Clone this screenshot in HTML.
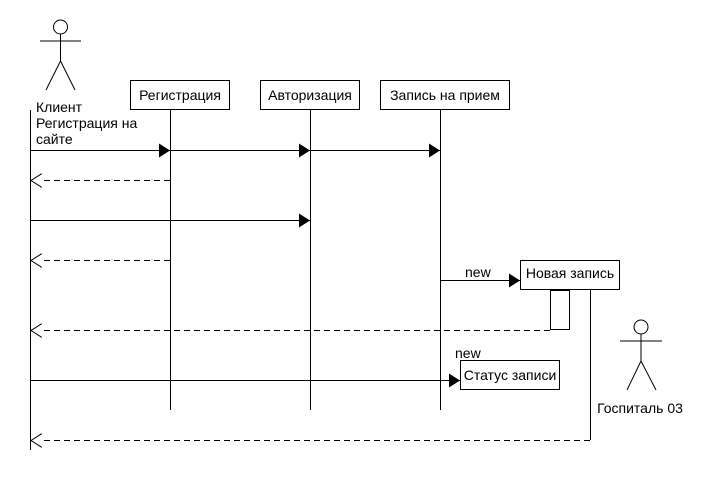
<!DOCTYPE html>
<html><head><meta charset="utf-8"><style>body{margin:0;background:#fff}svg{display:block}text{font-family:"Liberation Sans","Noto Sans CJK SC",sans-serif;font-size:14px;fill:#000}</style></head><body>
<svg width="710" height="480" viewBox="0 0 710 480">
<defs>
<marker id="f" markerWidth="12" markerHeight="14" refX="11" refY="7" orient="auto" markerUnits="userSpaceOnUse"><path d="M0,0L11,7L0,14z" fill="#000"/></marker>
<marker id="o" markerWidth="12" markerHeight="14" refX="11" refY="7" orient="auto" markerUnits="userSpaceOnUse"><path d="M0,0L11,7L0,14" fill="#fff" stroke="#000"/></marker>
</defs>
<g stroke="#000" fill="none">
<circle cx="60.5" cy="27" r="7"/>
<path d="M60.5,34V61M40,41H81M60.5,61L46,90M60.5,61L75,90"/>
<circle cx="641" cy="327" r="7"/>
<path d="M641,334V361M620,341H662M641,361L627,390M641,361L656,390"/>
<path d="M30.5,110V450M170.5,110V410M310.5,110V410M440.5,110V410M590.5,290V440"/>
<rect x="130.5" y="80.5" width="99" height="29" fill="#fff"/>
<rect x="260.5" y="80.5" width="99" height="29" fill="#fff"/>
<rect x="380.5" y="80.5" width="129" height="29" fill="#fff"/>
<rect x="520.5" y="260.5" width="99" height="29" fill="#fff"/>
<rect x="550.5" y="290.5" width="19" height="39" fill="#fff"/>
<rect x="460.5" y="360.5" width="99" height="29" fill="#fff"/>
<path d="M30,150.5H170" marker-end="url(#f)"/>
<path d="M170,150.5H310" marker-end="url(#f)"/>
<path d="M310,150.5H440" marker-end="url(#f)"/>
<path d="M30,220.5H310" marker-end="url(#f)"/>
<path d="M440,280.5H520" marker-end="url(#f)"/>
<path d="M30,380.5H460" marker-end="url(#f)"/>
<g stroke-dasharray="6,4">
<path d="M170,180.5H31" marker-end="url(#o)"/>
<path d="M170,260.5H31" marker-end="url(#o)"/>
<path d="M550,330.5H31" marker-end="url(#o)"/>
<path d="M590,440.5H31" marker-end="url(#o)"/>
</g>
</g>
<text x="36" y="112">Клиент</text>
<text x="36" y="128">Регистрация на</text>
<text x="36" y="144">сайте</text>
<text x="180" y="100" text-anchor="middle">Регистрация</text>
<text x="310" y="100" text-anchor="middle">Авторизация</text>
<text x="445" y="100" text-anchor="middle">Запись на прием</text>
<text x="570" y="278" text-anchor="middle">Новая запись</text>
<text x="510" y="380" text-anchor="middle">Статус записи</text>
<text x="465" y="277">new</text>
<text x="455" y="358">new</text>
<text x="640" y="413" text-anchor="middle">Госпиталь 03</text>
</svg>
</body></html>
